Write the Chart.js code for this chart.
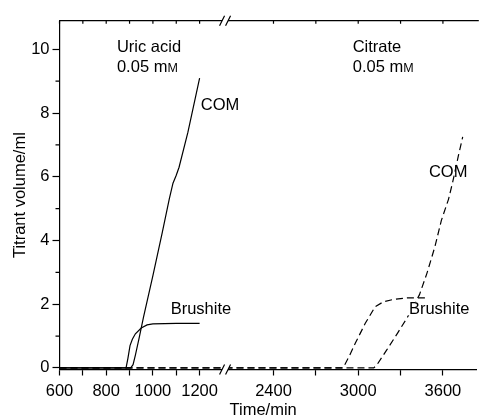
<!DOCTYPE html>
<html>
<head>
<meta charset="utf-8">
<script src="https://cdn.jsdelivr.net/npm/chart.js@4.4.1/dist/chart.umd.min.js"></script>
<style>
  html, body { margin: 0; padding: 0; background: #fff; }
  #wrap { width: 488px; height: 416px; position: relative; }
</style>
</head>
<body>
<div id="wrap"><canvas id="chart"></canvas></div>
<script>
// uric acid run, left part of the time axis (min, ml)
const uricComTime = [600, 905, 915, 925, 940, 960, 1000, 1040, 1070, 1086, 1100, 1112, 1150, 1200];
const uricComVol  = [0, 0, 0.1, 0.4, 0.9, 1.6, 2.9, 4.25, 5.3, 5.8, 6.05, 6.3, 7.4, 9.1];
const uricBruTime = [600, 885, 893, 902, 912, 925, 950, 975, 1000, 1100, 1200];
const uricBruVol  = [0, 0, 0.3, 0.7, 0.9, 1.07, 1.25, 1.35, 1.38, 1.4, 1.4];

// citrate run: flat before the break, then the right part
const citBaseTime = [600, 1310];
const citBaseVol  = [0, 0];
const citBruTime = [2060, 2890, 2905, 2940, 2980, 3050, 3120, 3180, 3250, 3350, 3500];
const citBruVol  = [0, 0, 0.1, 0.4, 0.78, 1.4, 1.92, 2.08, 2.15, 2.2, 2.2];
const citComTime = [2060, 3110, 3130, 3200, 3280, 3350, 3434, 3486, 3543, 3589, 3640, 3669, 3710, 3740];
const citComVol  = [0, 0, 0.08, 0.55, 1.1, 1.6, 2.3, 2.96, 3.8, 4.63, 5.3, 5.83, 6.67, 7.25];

// axis ticks
const leftTicks = [600, 700, 800, 900, 1000, 1100, 1200];
const leftLabels = [600, 800, 1000, 1200];
const rightTicks = [2400, 2700, 3000, 3300, 3600];
const rightLabels = [2400, 3000, 3600];
const volTicks = [0, 2, 4, 6, 8, 10];
const volMinor = [1, 3, 5, 7, 9];

// text in the plot, anchored in data units
const notes = [
  { text: 'Uric acid', axis: 'x1', x: 846, y: 10.12 },
  { text: '0.05 m', sc: 'M', axis: 'x1', x: 846, y: 9.49 },
  { text: 'COM', axis: 'x1', x: 1205, y: 8.27 },
  { text: 'Brushite', axis: 'x1', x: 1076, y: 1.87 },
  { text: 'Citrate', axis: 'x2', x: 2961, y: 10.12 },
  { text: '0.05 m', sc: 'M', axis: 'x2', x: 2961, y: 9.49 },
  { text: 'COM', axis: 'x2', x: 3501, y: 6.18 },
  { text: 'Brushite', axis: 'x2', x: 3359, y: 1.87, bg: true }
];

const FAMILY = '"Liberation Sans", Arial, Helvetica, sans-serif';
const font = { family: FAMILY, size: 16.5 };
const pts = (xs, ys) => xs.map((x, i) => ({ x: x, y: ys[i] }));
const DASH = [7, 4];

const frame = {
  id: 'frame',
  afterDraw(chart) {
    const { ctx, chartArea: a, scales } = chart;
    const x1 = scales.x1, x2 = scales.x2, y = scales.y;
    ctx.save();
    ctx.strokeStyle = '#000';
    ctx.lineWidth = 1.2;

    // top line with short inward ticks, minor ticks on the volume axis
    ctx.beginPath();
    ctx.moveTo(a.left, a.top);
    ctx.lineTo(a.right + 2, a.top);
    leftTicks.forEach(v => { const px = x1.getPixelForValue(v); ctx.moveTo(px, a.top); ctx.lineTo(px, a.top + 3); });
    rightTicks.forEach(v => { const px = x2.getPixelForValue(v); ctx.moveTo(px, a.top); ctx.lineTo(px, a.top + 3); });
    volMinor.forEach(v => { const py = y.getPixelForValue(v); ctx.moveTo(a.left, py); ctx.lineTo(a.left - 4, py); });
    ctx.stroke();

    // axis break marks
    const xb = x1.right;
    [a.top, a.bottom].forEach(yy => {
      ctx.fillStyle = '#fff';
      ctx.beginPath();
      ctx.moveTo(xb - 5.5, yy + 5);
      ctx.lineTo(xb - 0.5, yy - 5);
      ctx.lineTo(xb + 5.5, yy - 5);
      ctx.lineTo(xb + 0.5, yy + 5);
      ctx.closePath();
      ctx.fill();
      ctx.beginPath();
      ctx.moveTo(xb - 5.5, yy + 5); ctx.lineTo(xb - 0.5, yy - 5);
      ctx.moveTo(xb + 0.5, yy + 5); ctx.lineTo(xb + 5.5, yy - 5);
      ctx.stroke();
    });

    // labels
    ctx.textAlign = 'left';
    ctx.textBaseline = 'alphabetic';
    notes.forEach(n => {
      const px = scales[n.axis].getPixelForValue(n.x);
      const py = y.getPixelForValue(n.y) + 6;
      ctx.font = '16.5px ' + FAMILY;
      if (n.bg) {
        const w = ctx.measureText(n.text).width;
        ctx.fillStyle = '#fff';
        ctx.fillRect(px - 1, py - 13, 13, 14);
      }
      ctx.fillStyle = '#000';
      ctx.fillText(n.text, px, py);
      if (n.sc) {
        const w = ctx.measureText(n.text).width;
        ctx.font = '12.5px ' + FAMILY;
        ctx.fillText(n.sc, px + w, py);
      }
    });

    ctx.font = '16.5px ' + FAMILY;
    ctx.textAlign = 'center';
    ctx.textBaseline = 'middle';
    ctx.fillText('Time/min', (a.left + a.right) / 2 - 5, a.bottom + 41);
    ctx.restore();
  }
};

const xAxis = (min, max, weight, ticks, labels) => ({
  type: 'linear',
  position: 'bottom',
  stack: 'time',
  stackWeight: weight,
  min: min,
  max: max,
  afterBuildTicks: s => { s.ticks = ticks.map(v => ({ value: v })); },
  afterFit: s => { s.height = 46.5; },
  ticks: {
    autoSkip: false, maxRotation: 0, padding: 6, color: '#000', font: font,
    callback: v => labels.includes(v) ? String(v) : ''
  },
  grid: { drawOnChartArea: false, tickLength: 6, tickColor: '#000', tickWidth: 1.2 },
  border: { color: '#000', width: 1.2 }
});

new Chart(document.getElementById('chart'), {
  type: 'line',
  data: {
    datasets: [
      { label: 'Uric acid COM', data: pts(uricComTime, uricComVol), xAxisID: 'x1' },
      { label: 'Uric acid brushite', data: pts(uricBruTime, uricBruVol), xAxisID: 'x1' },
      { label: 'Citrate brushite (early)', data: pts(citBaseTime, citBaseVol), xAxisID: 'x1', borderDash: DASH },
      { label: 'Citrate COM (early)', data: pts(citBaseTime, citBaseVol), xAxisID: 'x1', borderDash: DASH },
      { label: 'Citrate brushite', data: pts(citBruTime, citBruVol), xAxisID: 'x2', borderDash: DASH },
      { label: 'Citrate COM', data: pts(citComTime, citComVol), xAxisID: 'x2', borderDash: DASH }
    ]
  },
  options: {
    responsive: true,
    maintainAspectRatio: false,
    animation: false,
    layout: { padding: { top: 20.7, right: 0, bottom: 0, left: 0 } },
    plugins: { legend: { display: false }, tooltip: { enabled: false } },
    elements: {
      point: { radius: 0 },
      line: { borderWidth: 1.2, tension: 0, borderColor: '#000', fill: false }
    },
    scales: {
      x1: xAxis(600, 1309, 170, leftTicks, leftLabels),
      x2: xAxis(2057, 3840, 258.5, rightTicks, rightLabels),
      y: {
        type: 'linear',
        position: 'left',
        min: -0.05,
        max: 10.9,
        afterBuildTicks: s => { s.ticks = volTicks.map(v => ({ value: v })); },
        afterFit: s => { s.width = 59.5; },
        ticks: { padding: 3, color: '#000', font: font },
        grid: { drawOnChartArea: false, tickLength: 7, tickColor: '#000', tickWidth: 1.2 },
        border: { color: '#000', width: 1.2 },
        title: { display: true, text: 'Titrant volume/ml', color: '#000', font: font, padding: { top: 11, bottom: 0 } }
      }
    }
  },
  plugins: [frame]
});
</script>
</body>
</html>
